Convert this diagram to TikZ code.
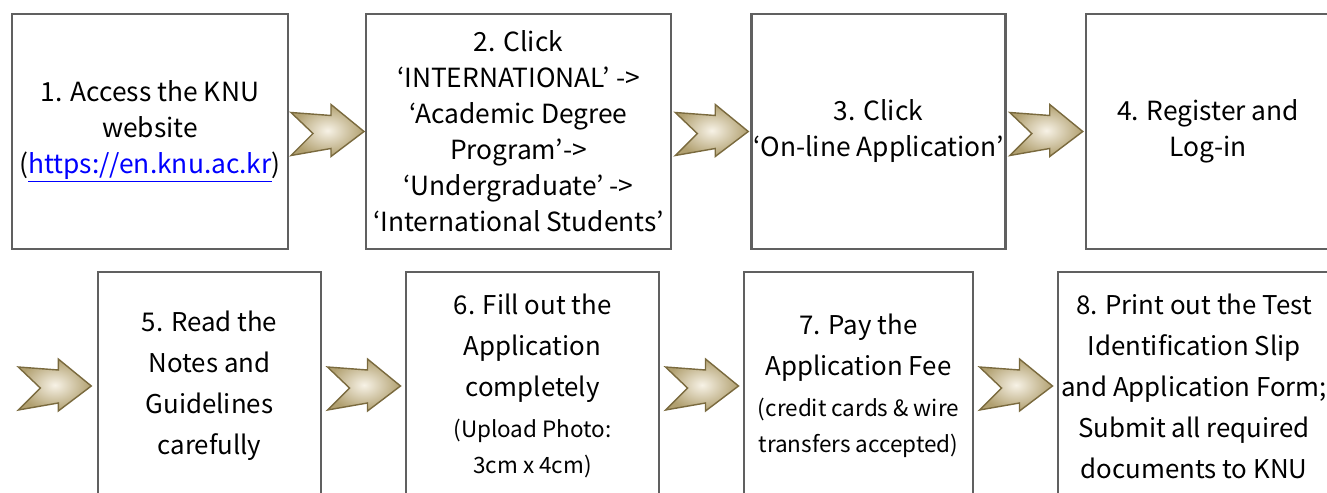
\documentclass[tikz,border=0pt]{standalone}
\usepackage{fontspec}
\setmainfont{Noto Sans CJK KR}

\definecolor{boxgray}{HTML}{606060}
\definecolor{chevlight}{HTML}{F7F2E6}
\definecolor{chevdark}{HTML}{B1A070}
\definecolor{chevedge}{HTML}{7A6A3E}
\definecolor{linkblue}{HTML}{0000FF}

\newcommand\notesize{\fontsize{12.8}{16}\selectfont}

\tikzset{
  chev/.pic={
    \path[shade,inner color=chevlight,outer color=chevdark,draw=chevedge,line width=0.8pt]
      (-0.72,0.38) -- (0.08,0.32) -- (0.08,0.54) -- (0.74,0) -- (0.08,-0.50)
      -- (0.08,-0.34) -- (-0.72,-0.48) -- (-0.28,-0.04) -- cycle;
  }
}

\begin{document}
\begin{tikzpicture}[
stepbox/.style={draw=boxgray,line width=1.6pt,fill=white,align=center,inner sep=1pt},
toprow/.style={stepbox,minimum height=4.70cm,font=\fontsize{15}{20.5}\selectfont},
lowrow/.style={stepbox,minimum height=4.56cm,font=\fontsize{14.7}{23.3}\selectfont}
]
\useasboundingbox (0,0) rectangle (26.54,9.84);
\clip (0,0) rectangle (26.54,9.84);

% first row
\node[toprow,minimum width=5.52cm] (s1) at (3.00,7.21)
	{1. Access the KNU\\ website\\ (\textcolor{linkblue}{\underline{https://en.knu.ac.kr}})};
\node[toprow,minimum width=6.10cm] (s2) at (10.37,7.21)
	{2. Click\\ ‘INTERNATIONAL’ ->\\ ‘Academic Degree\\ Program’->\\ ‘Undergraduate’ ->\\ ‘International Students’};
\node[toprow,minimum width=4.94cm] (s3) at (17.57,7.21)
	{3. Click\\ ‘On-line Application’};
\node[toprow,minimum width=4.88cm] (s4) at (24.16,7.21)
	{4. Register and\\ Log-in};

% second row
\coordinate (in5) at (0.24,2.12);
\node[lowrow,minimum width=4.46cm] (s5) at (4.19,2.12)
	{5. Read the\\ Notes and\\ Guidelines\\ carefully};
\node[lowrow,minimum width=5.06cm] (s6) at (10.65,2.12)
	{6. Fill out the\\ Application\\ completely\\ {\notesize (Upload Photo:}\\[-3pt] {\notesize 3cm x 4cm)}};
\node[lowrow,minimum width=4.58cm] (s7) at (17.17,2.12)
	{7. Pay the\\ Application Fee\\ {\notesize (credit cards \& wire}\\[-3pt] {\notesize transfers accepted)}};
\node[lowrow,minimum width=5.44cm] (s8) at (23.88,2.12)
	{8. Print out the Test\\ Identification Slip\\ and Application Form;\\ Submit all required\\ documents to KNU};

\path (s1.east) -- pic {chev} (s2.west);
\path (s2.east) -- pic {chev} (s3.west);
\path (s3.east) -- pic {chev} (s4.west);
\path (in5) -- pic {chev} (s5.west);
\path (s5.east) -- pic {chev} (s6.west);
\path (s6.east) -- pic {chev} (s7.west);
\path (s7.east) -- pic {chev} (s8.west);

\end{tikzpicture}
\end{document}
